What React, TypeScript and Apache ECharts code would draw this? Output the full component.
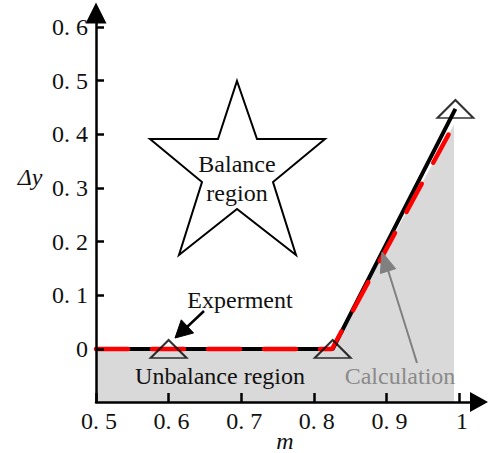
import React, { useEffect, useRef } from 'react';
import * as echarts from 'echarts';

// Axis ticks
const xTicks = [0.5, 0.6, 0.7, 0.8, 0.9, 1.0];
const yTicks = [0, 0.1, 0.2, 0.3, 0.4, 0.5, 0.6];

// Experiment (black line + triangle markers)
const expM = [0.5, 0.6, 0.826, 0.995];
const expDy = [0, 0, 0, 0.447];
const expMarked = [false, true, true, true];

// Calculation (red dashed line + gray area)
const calcM = [0.5, 0.825, 0.993];
const calcDy = [0, 0, 0.418];

const SERIF = 'Liberation Serif';

const fmt = (v: number) => {
  if (Math.abs(v) < 1e-9) return '0';
  if (Math.abs(v - 1) < 1e-9) return '1';
  return v.toFixed(1).replace('.', '. ');
};

export default function App() {
  const ref = useRef<HTMLDivElement>(null);

  useEffect(() => {
    if (!ref.current) return;
    const chart = echarts.init(ref.current, undefined, { renderer: 'svg' });

    const expData = expM.map((m, i) => [m, expDy[i]]);
    const calcData = calcM.map((m, i) => [m, calcDy[i]]);
    const markerData = expData.filter((_, i) => expMarked[i]);

    const starPts: number[][] = [
      [237, 81], [257, 139], [325, 139], [273, 182], [296, 255],
      [237, 209], [179, 255], [202, 182], [150, 139], [218, 139],
    ];

    const arrowHead = (tx: number, ty: number, fx: number, fy: number, len: number, hw: number) => {
      const dx = tx - fx, dy = ty - fy;
      const L = Math.sqrt(dx * dx + dy * dy);
      const ux = dx / L, uy = dy / L;
      const bx = tx - ux * len, by = ty - uy * len;
      return [[tx, ty], [bx - uy * hw, by + ux * hw], [bx + uy * hw, by - ux * hw]];
    };

    const textStyle = (text: string, fill = '#111', size = 24, italic = false) => {
      const s: any = {
        text,
        fill,
        fontSize: size,
        fontFamily: SERIF,
        align: 'center',
        verticalAlign: 'middle',
      };
      if (italic) s.fontStyle = 'italic';
      return s;
    };

    chart.setOption({
      animation: false,
      backgroundColor: '#fff',
      grid: { left: 96, right: 16, top: 13, bottom: 51, containLabel: false },
      xAxis: {
        type: 'value',
        min: 0.5,
        max: 1.0275,
        z: 5,
        splitLine: { show: false },
        axisLine: {
          show: true,
          onZero: false,
          symbol: ['none', 'triangle'],
          symbolSize: [20, 18],
          lineStyle: { color: '#000', width: 2.5 },
        },
        axisTick: {
          show: true,
          inside: true,
          length: 9,
          customValues: xTicks,
          lineStyle: { color: '#000', width: 2.5 },
        },
        axisLabel: {
          show: true,
          customValues: xTicks,
          formatter: fmt,
          margin: 7,
          padding: [0, 0, 0, 6],
          color: '#111',
          fontSize: 24,
          fontFamily: SERIF,
        },
      },
      yAxis: {
        type: 'value',
        min: -0.0987,
        max: 0.6257,
        z: 5,
        splitLine: { show: false },
        axisLine: {
          show: true,
          onZero: false,
          symbol: ['none', 'triangle'],
          symbolSize: [21, 21],
          lineStyle: { color: '#000', width: 2.5 },
        },
        axisTick: {
          show: true,
          inside: true,
          length: 8,
          customValues: yTicks,
          lineStyle: { color: '#000', width: 2.5 },
        },
        axisLabel: {
          show: true,
          customValues: yTicks,
          formatter: fmt,
          margin: 8,
          padding: [17, 0, 0, 0],
          color: '#111',
          fontSize: 24,
          fontFamily: SERIF,
        },
      },
      series: [
        {
          type: 'line',
          data: calcData,
          showSymbol: false,
          symbol: 'none',
          lineStyle: { width: 0, opacity: 0 },
          areaStyle: { color: '#d9d9d9', opacity: 1, origin: 'start' },
          z: 1,
          silent: true,
        },
        {
          type: 'line',
          data: expData,
          symbol: 'none',
          lineStyle: { color: '#000', width: 4 },
          z: 2,
          silent: true,
        },
        {
          type: 'line',
          data: calcData,
          symbol: 'none',
          lineStyle: { color: '#ff0000', width: 4.5, type: [32, 24], cap: 'round' },
          z: 3,
          silent: true,
        },
        {
          type: 'scatter',
          data: markerData,
          symbol: 'triangle',
          symbolSize: [36, 18],
          itemStyle: { color: 'rgba(0,0,0,0)', borderColor: '#000', borderWidth: 2 },
          z: 4,
          silent: true,
        },
      ],
      graphic: [
        {
          type: 'polygon',
          z: 10,
          shape: { points: starPts },
          style: { fill: '#fff', stroke: '#000', lineWidth: 2 },
        },
        { type: 'text', z: 11, x: 237, y: 164, style: textStyle('Balance') },
        { type: 'text', z: 11, x: 237, y: 193, style: textStyle('region') },
        { type: 'text', z: 11, x: 220, y: 376, style: textStyle('Unbalance region') },
        { type: 'text', z: 11, x: 240, y: 300, style: textStyle('Experment') },
        { type: 'text', z: 11, x: 400, y: 376, style: textStyle('Calculation', '#8a8a8a') },
        { type: 'text', z: 11, x: 30, y: 177, style: textStyle('Δy', '#111', 24, true) },
        { type: 'text', z: 11, x: 285, y: 441, style: textStyle('m', '#111', 24, true) },
        {
          type: 'line', z: 10,
          shape: { x1: 204, y1: 311, x2: 186, y2: 328 },
          style: { stroke: '#000', lineWidth: 2.5 },
        },
        {
          type: 'polygon', z: 10,
          shape: { points: arrowHead(175, 338, 204, 311, 17, 9) },
          style: { fill: '#000', stroke: '#000', lineWidth: 1 },
        },
        {
          type: 'line', z: 10,
          shape: { x1: 417, y1: 363, x2: 388, y2: 270 },
          style: { stroke: '#808080', lineWidth: 2 },
        },
        {
          type: 'polygon', z: 10,
          shape: { points: arrowHead(382, 252, 417, 363, 20, 8) },
          style: { fill: '#808080', stroke: '#808080', lineWidth: 1 },
        },
      ],
    });

    return () => chart.dispose();
  }, []);

  return <div ref={ref} style={{ width: 495, height: 453, position: 'absolute', left: 0, top: 0 }} />;
}
